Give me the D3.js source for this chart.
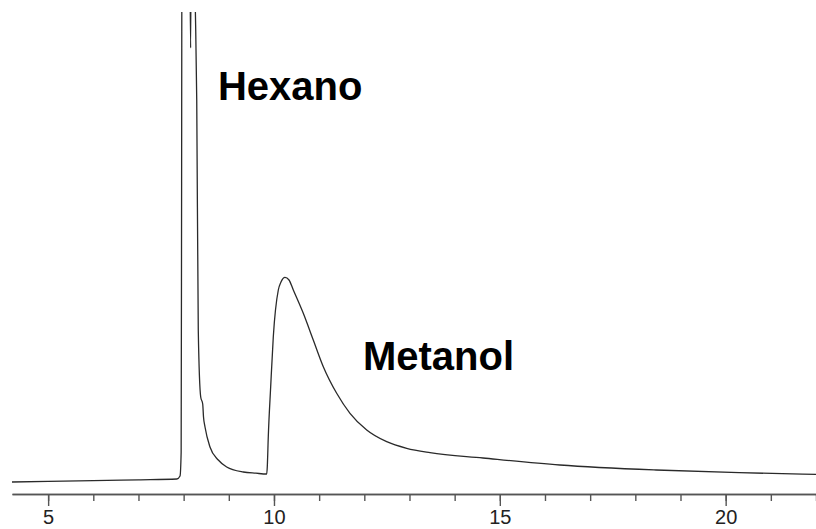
<!DOCTYPE html>
<html>
<head>
<meta charset="utf-8">
<script src="https://cdn.jsdelivr.net/npm/d3@7"></script>
<style>
  html, body { margin: 0; padding: 0; background: #fff; }
  svg { display: block; }
</style>
</head>
<body>
<script>
// retention time (min)
var times = [4.2, 5.0, 6.0, 7.0, 7.85, 7.92, 7.945, 7.955, 7.965,
  8.12, 8.155, 8.175, 8.26, 8.29, 8.324, 8.378, 8.422, 8.44, 8.473, 8.583, 8.767, 8.953, 9.321, 9.6, 9.839,
  9.852, 9.874, 9.927, 9.985, 10.096, 10.155, 10.244, 10.333, 10.428, 10.649, 10.87, 11.092, 11.388, 11.683,
  12.053, 12.495, 12.938, 13.454, 14.627, 16.33, 18.46, 20.3, 22.0];
// detector signal (arbitrary units)
var signal = [0, 0.6, 1.4, 2.2, 3, 6, 30, 300, 620,
  620, 434, 620, 470, 382, 152, 85, 78, 65, 55, 35, 22, 15, 10, 8.8, 8,
  15.3, 45.3, 95.3, 145.3, 192, 200, 204.7, 202, 192, 168.7, 142, 115.3, 88.7, 68.7,
  52, 40.3, 33.7, 29.3, 24, 17, 12, 9.3, 7.7];

var majorTicks = [5, 10, 15, 20];
var minorTicks = d3.range(5, 23);

var peakNames = ["Hexano", "Metanol"];
var peakLabelTime = [8.76, 11.97];
var peakLabelSignal = [382, 112];

var W = 816, H = 529;
var plotTop = 12, baseY = 482, axisY = 494;

var svg = d3.select("body").append("svg")
  .attr("width", W)
  .attr("height", H);

var x = d3.scaleLinear().domain([4.2, 22.0]).range([12, 816]);
var y = d3.scaleLinear().domain([0, 470]).range([baseY, plotTop]);

svg.append("clipPath").attr("id", "plotclip")
  .append("rect")
  .attr("x", 0).attr("y", plotTop)
  .attr("width", W).attr("height", axisY - plotTop);

var pts = times.map(function (t, i) { return [t, signal[i]]; });

var line = d3.line()
  .x(function (d) { return x(d[0]); })
  .y(function (d) { return y(d[1]); })
  .curve(d3.curveMonotoneX);

svg.append("path")
  .datum(pts)
  .attr("clip-path", "url(#plotclip)")
  .attr("d", line)
  .attr("fill", "none")
  .attr("stroke", "#2a2a2a")
  .attr("stroke-width", 1.3);

// axis: minor ticks first, then major ticks with labels
var minorAxis = d3.axisBottom(x)
  .tickValues(minorTicks)
  .tickSize(7)
  .tickSizeOuter(0)
  .tickFormat("");

var majorAxis = d3.axisBottom(x)
  .tickValues(majorTicks)
  .tickSize(12)
  .tickSizeOuter(0)
  .tickPadding(4)
  .tickFormat(d3.format("d"));

var gMinor = svg.append("g")
  .attr("transform", "translate(0," + axisY + ")")
  .call(minorAxis);

var gMajor = svg.append("g")
  .attr("transform", "translate(0," + axisY + ")")
  .call(majorAxis);

[gMinor, gMajor].forEach(function (g) {
  g.select(".domain").attr("stroke", "#555").attr("stroke-width", 1.6);
  g.selectAll(".tick line").attr("stroke", "#555").attr("stroke-width", 1.4);
});
gMajor.selectAll(".tick text")
  .attr("fill", "#222")
  .attr("font-family", "Arial, 'Liberation Sans', sans-serif")
  .attr("font-size", "20px");

// peak names
svg.selectAll("text.peak")
  .data(peakNames)
  .enter()
  .append("text")
  .attr("class", "peak")
  .attr("x", function (d, i) { return x(peakLabelTime[i]); })
  .attr("y", function (d, i) { return y(peakLabelSignal[i]); })
  .attr("font-family", "Arial, 'Liberation Sans', sans-serif")
  .attr("font-weight", "bold")
  .attr("font-size", "40px")
  .attr("fill", "#000")
  .text(function (d) { return d; });
</script>
</body>
</html>
